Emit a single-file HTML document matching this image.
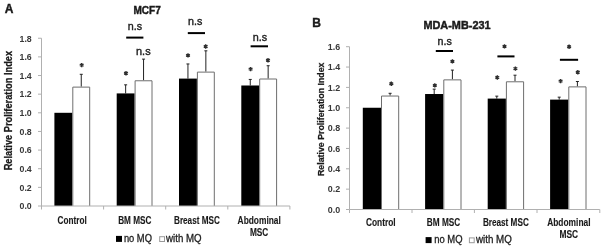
<!DOCTYPE html>
<html><head><meta charset="utf-8"><title>Proliferation index charts</title>
<style>
html,body{margin:0;padding:0;background:#fff;}
body{width:604px;height:247px;overflow:hidden;}
svg{display:block;font-family:"Liberation Sans", sans-serif;will-change:transform;filter:blur(0.35px);}
</style></head>
<body>
<svg width="604" height="247" viewBox="0 0 604 247">
<rect x="0" y="0" width="604" height="247" fill="#fff"/>
<line x1="41.5" y1="38.23999999999998" x2="41.5" y2="206.0" stroke="#b0b0b0" stroke-width="1"/>
<line x1="38.0" y1="206.0" x2="41.5" y2="206.0" stroke="#b0b0b0" stroke-width="1"/>
<text x="31.7" y="209.3" font-size="9.6" font-weight="bold" text-anchor="end" textLength="12.2" lengthAdjust="spacingAndGlyphs" fill="#383838">0.0</text>
<line x1="38.0" y1="187.36" x2="41.5" y2="187.36" stroke="#b0b0b0" stroke-width="1"/>
<text x="31.7" y="190.66000000000003" font-size="9.6" font-weight="bold" text-anchor="end" textLength="12.2" lengthAdjust="spacingAndGlyphs" fill="#383838">0.2</text>
<line x1="38.0" y1="168.72" x2="41.5" y2="168.72" stroke="#b0b0b0" stroke-width="1"/>
<text x="31.7" y="172.02" font-size="9.6" font-weight="bold" text-anchor="end" textLength="12.2" lengthAdjust="spacingAndGlyphs" fill="#383838">0.4</text>
<line x1="38.0" y1="150.07999999999998" x2="41.5" y2="150.07999999999998" stroke="#b0b0b0" stroke-width="1"/>
<text x="31.7" y="153.38" font-size="9.6" font-weight="bold" text-anchor="end" textLength="12.2" lengthAdjust="spacingAndGlyphs" fill="#383838">0.6</text>
<line x1="38.0" y1="131.44" x2="41.5" y2="131.44" stroke="#b0b0b0" stroke-width="1"/>
<text x="31.7" y="134.74" font-size="9.6" font-weight="bold" text-anchor="end" textLength="12.2" lengthAdjust="spacingAndGlyphs" fill="#383838">0.8</text>
<line x1="38.0" y1="112.8" x2="41.5" y2="112.8" stroke="#b0b0b0" stroke-width="1"/>
<text x="31.7" y="116.1" font-size="9.6" font-weight="bold" text-anchor="end" textLength="12.2" lengthAdjust="spacingAndGlyphs" fill="#383838">1.0</text>
<line x1="38.0" y1="94.15999999999998" x2="41.5" y2="94.15999999999998" stroke="#b0b0b0" stroke-width="1"/>
<text x="31.7" y="97.45999999999998" font-size="9.6" font-weight="bold" text-anchor="end" textLength="12.2" lengthAdjust="spacingAndGlyphs" fill="#383838">1.2</text>
<line x1="38.0" y1="75.51999999999998" x2="41.5" y2="75.51999999999998" stroke="#b0b0b0" stroke-width="1"/>
<text x="31.7" y="78.81999999999998" font-size="9.6" font-weight="bold" text-anchor="end" textLength="12.2" lengthAdjust="spacingAndGlyphs" fill="#383838">1.4</text>
<line x1="38.0" y1="56.879999999999995" x2="41.5" y2="56.879999999999995" stroke="#b0b0b0" stroke-width="1"/>
<text x="31.7" y="60.17999999999999" font-size="9.6" font-weight="bold" text-anchor="end" textLength="12.2" lengthAdjust="spacingAndGlyphs" fill="#383838">1.6</text>
<line x1="38.0" y1="38.23999999999998" x2="41.5" y2="38.23999999999998" stroke="#b0b0b0" stroke-width="1"/>
<text x="31.7" y="41.53999999999998" font-size="9.6" font-weight="bold" text-anchor="end" textLength="12.2" lengthAdjust="spacingAndGlyphs" fill="#383838">1.8</text>
<line x1="81.25" y1="74.3084" x2="81.25" y2="86.6108" stroke="#222" stroke-width="1"/>
<line x1="79.75" y1="74.3084" x2="82.75" y2="74.3084" stroke="#222" stroke-width="1"/>
<rect x="54.4" y="112.8" width="17.9" height="93.2" fill="#000"/>
<path d="M72.80 206.00V87.11H89.70V206.00" fill="#fff" stroke="#6e6e6e" stroke-width="1"/>
<line x1="125.64999999999999" y1="84.83999999999999" x2="125.64999999999999" y2="93.4144" stroke="#222" stroke-width="1"/>
<line x1="124.14999999999999" y1="84.83999999999999" x2="127.14999999999999" y2="84.83999999999999" stroke="#222" stroke-width="1"/>
<line x1="143.54999999999998" y1="59.116799999999984" x2="143.54999999999998" y2="80.2732" stroke="#222" stroke-width="1"/>
<line x1="142.04999999999998" y1="59.116799999999984" x2="145.04999999999998" y2="59.116799999999984" stroke="#222" stroke-width="1"/>
<rect x="116.69999999999999" y="93.4144" width="17.9" height="112.5856" fill="#000"/>
<path d="M135.10 206.00V80.77H152.00V206.00" fill="#fff" stroke="#6e6e6e" stroke-width="1"/>
<line x1="187.95000000000002" y1="63.9632" x2="187.95000000000002" y2="78.59559999999999" stroke="#222" stroke-width="1"/>
<line x1="186.45000000000002" y1="63.9632" x2="189.45000000000002" y2="63.9632" stroke="#222" stroke-width="1"/>
<line x1="205.85" y1="50.822" x2="205.85" y2="71.60560000000001" stroke="#222" stroke-width="1"/>
<line x1="204.35" y1="50.822" x2="207.35" y2="50.822" stroke="#222" stroke-width="1"/>
<rect x="179.0" y="78.59559999999999" width="17.9" height="127.40440000000001" fill="#000"/>
<path d="M197.40 206.00V72.11H214.30V206.00" fill="#fff" stroke="#6e6e6e" stroke-width="1"/>
<line x1="250.25" y1="79.43439999999998" x2="250.25" y2="85.4924" stroke="#222" stroke-width="1"/>
<line x1="248.75" y1="79.43439999999998" x2="251.75" y2="79.43439999999998" stroke="#222" stroke-width="1"/>
<line x1="268.15" y1="65.73400000000001" x2="268.15" y2="78.50239999999998" stroke="#222" stroke-width="1"/>
<line x1="266.65" y1="65.73400000000001" x2="269.65" y2="65.73400000000001" stroke="#222" stroke-width="1"/>
<rect x="241.29999999999998" y="85.4924" width="17.9" height="120.5076" fill="#000"/>
<path d="M259.70 206.00V79.00H276.60V206.00" fill="#fff" stroke="#6e6e6e" stroke-width="1"/>
<line x1="41.5" y1="206.0" x2="289.9" y2="206.0" stroke="#b0b0b0" stroke-width="1"/>
<line x1="41.5" y1="206.0" x2="41.5" y2="209.5" stroke="#b0b0b0" stroke-width="1"/>
<line x1="103.6" y1="206.0" x2="103.6" y2="209.5" stroke="#b0b0b0" stroke-width="1"/>
<line x1="165.7" y1="206.0" x2="165.7" y2="209.5" stroke="#b0b0b0" stroke-width="1"/>
<line x1="227.8" y1="206.0" x2="227.8" y2="209.5" stroke="#b0b0b0" stroke-width="1"/>
<line x1="289.9" y1="206.0" x2="289.9" y2="209.5" stroke="#b0b0b0" stroke-width="1"/>
<path d="M81.70 62.90L81.70 67.30M79.79 64.00L83.61 66.20M83.61 64.00L79.79 66.20" stroke="#2e2e2e" stroke-width="1.4" fill="none"/>
<path d="M126.00 71.10L126.00 75.50M124.09 72.20L127.91 74.40M127.91 72.20L124.09 74.40" stroke="#2e2e2e" stroke-width="1.4" fill="none"/>
<path d="M188.00 53.20L188.00 57.60M186.09 54.30L189.91 56.50M189.91 54.30L186.09 56.50" stroke="#2e2e2e" stroke-width="1.4" fill="none"/>
<path d="M205.70 44.30L205.70 48.70M203.79 45.40L207.61 47.60M207.61 45.40L203.79 47.60" stroke="#2e2e2e" stroke-width="1.4" fill="none"/>
<path d="M250.60 66.90L250.60 71.30M248.69 68.00L252.51 70.20M252.51 68.00L248.69 70.20" stroke="#2e2e2e" stroke-width="1.4" fill="none"/>
<path d="M268.00 58.00L268.00 62.40M266.09 59.10L269.91 61.30M269.91 59.10L266.09 61.30" stroke="#2e2e2e" stroke-width="1.4" fill="none"/>
<line x1="126.2" y1="37.6" x2="143.4" y2="37.6" stroke="#000" stroke-width="2"/>
<line x1="187.8" y1="33.1" x2="205.0" y2="33.1" stroke="#000" stroke-width="2"/>
<line x1="250.6" y1="46.3" x2="268.0" y2="46.3" stroke="#000" stroke-width="2"/>
<text x="127.8" y="30.0" font-size="11.5" text-anchor="start" textLength="14.3" lengthAdjust="spacingAndGlyphs" fill="#222" stroke="#222" stroke-width="0.4">n.s</text>
<text x="136.0" y="54.9" font-size="11.5" text-anchor="start" textLength="14.6" lengthAdjust="spacingAndGlyphs" fill="#222" stroke="#222" stroke-width="0.4">n.s</text>
<text x="188.0" y="25.2" font-size="11.5" text-anchor="start" textLength="14.3" lengthAdjust="spacingAndGlyphs" fill="#222" stroke="#222" stroke-width="0.4">n.s</text>
<text x="252.7" y="40.5" font-size="11.5" text-anchor="start" textLength="14.4" lengthAdjust="spacingAndGlyphs" fill="#222" stroke="#222" stroke-width="0.4">n.s</text>
<text x="72.2" y="223.7" font-size="10.1" font-weight="bold" text-anchor="middle" textLength="29.2" lengthAdjust="spacingAndGlyphs" fill="#1a1a1a" stroke="#1a1a1a" stroke-width="0.12">Control</text>
<text x="134.8" y="223.7" font-size="10.1" font-weight="bold" text-anchor="middle" textLength="33.2" lengthAdjust="spacingAndGlyphs" fill="#1a1a1a" stroke="#1a1a1a" stroke-width="0.12">BM MSC</text>
<text x="196.9" y="223.7" font-size="10.1" font-weight="bold" text-anchor="middle" textLength="45.8" lengthAdjust="spacingAndGlyphs" fill="#1a1a1a" stroke="#1a1a1a" stroke-width="0.12">Breast MSC</text>
<text x="259.2" y="223.7" font-size="10.1" font-weight="bold" text-anchor="middle" textLength="43.2" lengthAdjust="spacingAndGlyphs" fill="#1a1a1a" stroke="#1a1a1a" stroke-width="0.12">Abdominal</text>
<text x="259.1" y="236.1" font-size="10.1" font-weight="bold" text-anchor="middle" textLength="18.4" lengthAdjust="spacingAndGlyphs" fill="#1a1a1a" stroke="#1a1a1a" stroke-width="0.12">MSC</text>
<text transform="translate(12.4,110.6) rotate(-90)" x="0" y="0" font-size="10" font-weight="bold" text-anchor="middle" textLength="119.5" lengthAdjust="spacingAndGlyphs" fill="#1a1a1a" stroke="#1a1a1a" stroke-width="0.25">Relative Proliferation Index</text>
<rect x="116.0" y="235.89999999999998" width="6" height="6" fill="#000"/>
<text x="123.9" y="241.9" font-size="10.3" text-anchor="start" textLength="28" lengthAdjust="spacingAndGlyphs" fill="#222" stroke="#222" stroke-width="0.3">no MQ</text>
<rect x="159.7" y="236.7" width="4.8" height="4.8" fill="#fff" stroke="#999" stroke-width="1"/>
<text x="166.1" y="241.9" font-size="10.3" text-anchor="start" textLength="35.5" lengthAdjust="spacingAndGlyphs" fill="#222" stroke="#222" stroke-width="0.3">with MQ</text>
<line x1="349.5" y1="46.69999999999999" x2="349.5" y2="209.5" stroke="#b0b0b0" stroke-width="1"/>
<line x1="346.0" y1="209.5" x2="349.5" y2="209.5" stroke="#b0b0b0" stroke-width="1"/>
<text x="340.2" y="212.8" font-size="9.6" font-weight="bold" text-anchor="end" textLength="12.4" lengthAdjust="spacingAndGlyphs" fill="#383838">0.0</text>
<line x1="346.0" y1="189.15" x2="349.5" y2="189.15" stroke="#b0b0b0" stroke-width="1"/>
<text x="340.2" y="192.45000000000002" font-size="9.6" font-weight="bold" text-anchor="end" textLength="12.4" lengthAdjust="spacingAndGlyphs" fill="#383838">0.2</text>
<line x1="346.0" y1="168.8" x2="349.5" y2="168.8" stroke="#b0b0b0" stroke-width="1"/>
<text x="340.2" y="172.10000000000002" font-size="9.6" font-weight="bold" text-anchor="end" textLength="12.4" lengthAdjust="spacingAndGlyphs" fill="#383838">0.4</text>
<line x1="346.0" y1="148.45" x2="349.5" y2="148.45" stroke="#b0b0b0" stroke-width="1"/>
<text x="340.2" y="151.75" font-size="9.6" font-weight="bold" text-anchor="end" textLength="12.4" lengthAdjust="spacingAndGlyphs" fill="#383838">0.6</text>
<line x1="346.0" y1="128.1" x2="349.5" y2="128.1" stroke="#b0b0b0" stroke-width="1"/>
<text x="340.2" y="131.4" font-size="9.6" font-weight="bold" text-anchor="end" textLength="12.4" lengthAdjust="spacingAndGlyphs" fill="#383838">0.8</text>
<line x1="346.0" y1="107.75" x2="349.5" y2="107.75" stroke="#b0b0b0" stroke-width="1"/>
<text x="340.2" y="111.05" font-size="9.6" font-weight="bold" text-anchor="end" textLength="12.4" lengthAdjust="spacingAndGlyphs" fill="#383838">1.0</text>
<line x1="346.0" y1="87.39999999999998" x2="349.5" y2="87.39999999999998" stroke="#b0b0b0" stroke-width="1"/>
<text x="340.2" y="90.69999999999997" font-size="9.6" font-weight="bold" text-anchor="end" textLength="12.4" lengthAdjust="spacingAndGlyphs" fill="#383838">1.2</text>
<line x1="346.0" y1="67.04999999999998" x2="349.5" y2="67.04999999999998" stroke="#b0b0b0" stroke-width="1"/>
<text x="340.2" y="70.34999999999998" font-size="9.6" font-weight="bold" text-anchor="end" textLength="12.4" lengthAdjust="spacingAndGlyphs" fill="#383838">1.4</text>
<line x1="346.0" y1="46.69999999999999" x2="349.5" y2="46.69999999999999" stroke="#b0b0b0" stroke-width="1"/>
<text x="340.2" y="49.999999999999986" font-size="9.6" font-weight="bold" text-anchor="end" textLength="12.4" lengthAdjust="spacingAndGlyphs" fill="#383838">1.6</text>
<line x1="390.1" y1="93.3015" x2="390.1" y2="95.53999999999999" stroke="#222" stroke-width="1"/>
<line x1="388.6" y1="93.3015" x2="391.6" y2="93.3015" stroke="#222" stroke-width="1"/>
<rect x="362.8" y="107.75" width="18.2" height="101.75" fill="#000"/>
<path d="M381.50 209.50V96.04H398.70V209.50" fill="#fff" stroke="#6e6e6e" stroke-width="1"/>
<line x1="434.2" y1="89.12975" x2="434.2" y2="94.01375" stroke="#222" stroke-width="1"/>
<line x1="432.7" y1="89.12975" x2="435.7" y2="89.12975" stroke="#222" stroke-width="1"/>
<line x1="452.40000000000003" y1="70.10249999999999" x2="452.40000000000003" y2="79.36175" stroke="#222" stroke-width="1"/>
<line x1="450.90000000000003" y1="70.10249999999999" x2="453.90000000000003" y2="70.10249999999999" stroke="#222" stroke-width="1"/>
<rect x="425.1" y="94.01375" width="18.2" height="115.48625" fill="#000"/>
<path d="M443.80 209.50V79.86H461.00V209.50" fill="#fff" stroke="#6e6e6e" stroke-width="1"/>
<line x1="496.79999999999995" y1="96.1505" x2="496.79999999999995" y2="98.59249999999999" stroke="#222" stroke-width="1"/>
<line x1="495.29999999999995" y1="96.1505" x2="498.29999999999995" y2="96.1505" stroke="#222" stroke-width="1"/>
<line x1="515.0" y1="75.19" x2="515.0" y2="81.29499999999999" stroke="#222" stroke-width="1"/>
<line x1="513.5" y1="75.19" x2="516.5" y2="75.19" stroke="#222" stroke-width="1"/>
<rect x="487.7" y="98.59249999999999" width="18.2" height="110.90750000000001" fill="#000"/>
<path d="M506.40 209.50V81.79H523.60V209.50" fill="#fff" stroke="#6e6e6e" stroke-width="1"/>
<line x1="559.1999999999999" y1="97.16799999999999" x2="559.1999999999999" y2="99.61" stroke="#222" stroke-width="1"/>
<line x1="557.6999999999999" y1="97.16799999999999" x2="560.6999999999999" y2="97.16799999999999" stroke="#222" stroke-width="1"/>
<line x1="577.4" y1="81.4985" x2="577.4" y2="86.38250000000001" stroke="#222" stroke-width="1"/>
<line x1="575.9" y1="81.4985" x2="578.9" y2="81.4985" stroke="#222" stroke-width="1"/>
<rect x="550.0999999999999" y="99.61" width="18.2" height="109.89" fill="#000"/>
<path d="M568.80 209.50V86.88H586.00V209.50" fill="#fff" stroke="#6e6e6e" stroke-width="1"/>
<line x1="349.5" y1="209.5" x2="599.8" y2="209.5" stroke="#b0b0b0" stroke-width="1"/>
<line x1="349.5" y1="209.5" x2="349.5" y2="213.0" stroke="#b0b0b0" stroke-width="1"/>
<line x1="412.0" y1="209.5" x2="412.0" y2="213.0" stroke="#b0b0b0" stroke-width="1"/>
<line x1="474.4" y1="209.5" x2="474.4" y2="213.0" stroke="#b0b0b0" stroke-width="1"/>
<line x1="537.0" y1="209.5" x2="537.0" y2="213.0" stroke="#b0b0b0" stroke-width="1"/>
<line x1="599.8" y1="209.5" x2="599.8" y2="213.0" stroke="#b0b0b0" stroke-width="1"/>
<path d="M391.30 81.60L391.30 86.00M389.39 82.70L393.21 84.90M393.21 82.70L389.39 84.90" stroke="#2e2e2e" stroke-width="1.4" fill="none"/>
<path d="M434.80 83.20L434.80 87.60M432.89 84.30L436.71 86.50M436.71 84.30L432.89 86.50" stroke="#2e2e2e" stroke-width="1.4" fill="none"/>
<path d="M452.40 59.20L452.40 63.60M450.49 60.30L454.31 62.50M454.31 60.30L450.49 62.50" stroke="#2e2e2e" stroke-width="1.4" fill="none"/>
<path d="M497.30 75.30L497.30 79.70M495.39 76.40L499.21 78.60M499.21 76.40L495.39 78.60" stroke="#2e2e2e" stroke-width="1.4" fill="none"/>
<path d="M515.40 66.40L515.40 70.80M513.49 67.50L517.31 69.70M517.31 67.50L513.49 69.70" stroke="#2e2e2e" stroke-width="1.4" fill="none"/>
<path d="M504.50 44.20L504.50 48.60M502.59 45.30L506.41 47.50M506.41 45.30L502.59 47.50" stroke="#2e2e2e" stroke-width="1.4" fill="none"/>
<path d="M560.60 78.90L560.60 83.30M558.69 80.00L562.51 82.20M562.51 80.00L558.69 82.20" stroke="#2e2e2e" stroke-width="1.4" fill="none"/>
<path d="M577.80 70.10L577.80 74.50M575.89 71.20L579.71 73.40M579.71 71.20L575.89 73.40" stroke="#2e2e2e" stroke-width="1.4" fill="none"/>
<path d="M569.10 44.50L569.10 48.90M567.19 45.60L571.01 47.80M571.01 45.60L567.19 47.80" stroke="#2e2e2e" stroke-width="1.4" fill="none"/>
<line x1="435.8" y1="51.0" x2="453.0" y2="51.0" stroke="#000" stroke-width="2"/>
<line x1="497.4" y1="56.4" x2="514.5" y2="56.4" stroke="#000" stroke-width="2"/>
<line x1="559.9" y1="59.8" x2="578.1" y2="59.8" stroke="#000" stroke-width="2"/>
<text x="437.5" y="44.6" font-size="11.5" text-anchor="start" textLength="14.3" lengthAdjust="spacingAndGlyphs" fill="#222" stroke="#222" stroke-width="0.4">n.s</text>
<text x="380.75" y="226.4" font-size="10.1" font-weight="bold" text-anchor="middle" textLength="29.7" lengthAdjust="spacingAndGlyphs" fill="#1a1a1a" stroke="#1a1a1a" stroke-width="0.12">Control</text>
<text x="443.5" y="226.4" font-size="10.1" font-weight="bold" text-anchor="middle" textLength="33.4" lengthAdjust="spacingAndGlyphs" fill="#1a1a1a" stroke="#1a1a1a" stroke-width="0.12">BM MSC</text>
<text x="505.85" y="226.4" font-size="10.1" font-weight="bold" text-anchor="middle" textLength="45.9" lengthAdjust="spacingAndGlyphs" fill="#1a1a1a" stroke="#1a1a1a" stroke-width="0.12">Breast MSC</text>
<text x="568.85" y="226.4" font-size="10.1" font-weight="bold" text-anchor="middle" textLength="43.3" lengthAdjust="spacingAndGlyphs" fill="#1a1a1a" stroke="#1a1a1a" stroke-width="0.12">Abdominal</text>
<text x="568.75" y="238.4" font-size="10.1" font-weight="bold" text-anchor="middle" textLength="18.7" lengthAdjust="spacingAndGlyphs" fill="#1a1a1a" stroke="#1a1a1a" stroke-width="0.12">MSC</text>
<text transform="translate(324.0,119.3) rotate(-90)" x="0" y="0" font-size="9.8" font-weight="bold" text-anchor="middle" textLength="113.5" lengthAdjust="spacingAndGlyphs" fill="#1a1a1a" stroke="#1a1a1a" stroke-width="0.25">Relative Proliferation Index</text>
<rect x="425.6" y="237.1" width="6" height="6" fill="#000"/>
<text x="434.2" y="242.7" font-size="10.3" text-anchor="start" textLength="28.3" lengthAdjust="spacingAndGlyphs" fill="#222" stroke="#222" stroke-width="0.3">no MQ</text>
<rect x="469.4" y="237.9" width="4.8" height="4.8" fill="#fff" stroke="#999" stroke-width="1"/>
<text x="476.0" y="242.7" font-size="10.3" text-anchor="start" textLength="35.8" lengthAdjust="spacingAndGlyphs" fill="#222" stroke="#222" stroke-width="0.3">with MQ</text>
<text x="4.7" y="13.3" font-size="12" font-weight="bold" text-anchor="start" fill="#1a1a1a" stroke="#1a1a1a" stroke-width="0.4">A</text>
<text x="147.1" y="14.3" font-size="11" font-weight="bold" text-anchor="middle" textLength="27.3" lengthAdjust="spacingAndGlyphs" fill="#1a1a1a" stroke="#1a1a1a" stroke-width="0.45">MCF7</text>
<text x="312.3" y="26.9" font-size="12" font-weight="bold" text-anchor="start" fill="#1a1a1a" stroke="#1a1a1a" stroke-width="0.4">B</text>
<text x="457.0" y="28.8" font-size="11" font-weight="bold" text-anchor="middle" textLength="67.2" lengthAdjust="spacingAndGlyphs" fill="#1a1a1a" stroke="#1a1a1a" stroke-width="0.45">MDA-MB-231</text>
</svg>
</body></html>
